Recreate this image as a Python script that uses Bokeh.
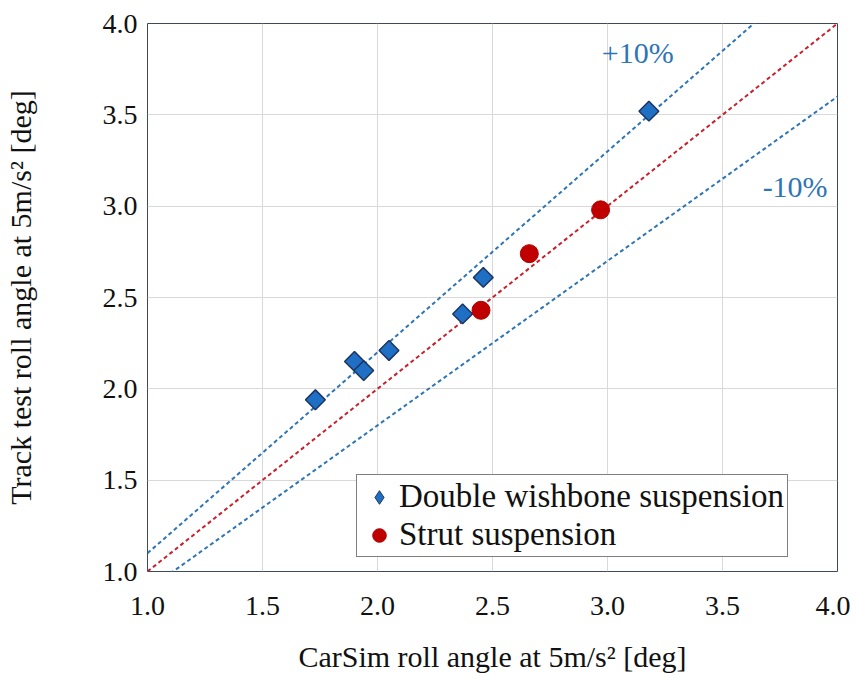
import numpy as np
from bokeh.plotting import figure
from bokeh.models import Label, Legend, LegendItem, FixedTicker, Range1d, PrintfTickFormatter
from bokeh.embed import file_html
from bokeh.resources import INLINE

# ---- data ----
dw_x = [1.73, 1.90, 1.94, 2.05, 2.37, 2.46, 3.18]
dw_y = [1.94, 2.15, 2.10, 2.21, 2.41, 2.61, 3.52]
strut_x = [2.45, 2.66, 2.97]
strut_y = [2.43, 2.74, 2.98]
ref_x = [1.0, 4.0]
ref_ratios = [1.1, 1.0, 0.9]
ticks = [1.0, 1.5, 2.0, 2.5, 3.0, 3.5, 4.0]
band_labels = ["+10%", "-10%"]
band_label_x = [2.975, 3.957]
band_label_y = [3.84, 3.108]

FONT = "'Liberation Serif', 'Times New Roman', serif"
BLUE_LINE = "#2E75B6"
RED_LINE = "#C8202C"

p = figure(width=850, height=676, output_backend="svg", toolbar_location=None,
           x_range=Range1d(1.0, 4.0), y_range=Range1d(1.0, 4.0),
           min_border_left=146, min_border_right=13, min_border_top=23, min_border_bottom=105)

p.background_fill_color = "white"
p.border_fill_color = "white"
p.outline_line_color = "#3E4A5C"
p.outline_line_width = 1

for ax in (p.xaxis[0], p.yaxis[0]):
    ax.ticker = FixedTicker(ticks=ticks)
    ax.formatter = PrintfTickFormatter(format="%.1f")
    ax.major_tick_line_color = None
    ax.minor_tick_line_color = None
    ax.axis_line_color = None
    ax.major_label_text_font = FONT
    ax.major_label_text_font_size = "28px"
    ax.major_label_text_color = "#111111"
    ax.axis_label_text_font = FONT
    ax.axis_label_text_font_size = "30px"
    ax.axis_label_text_font_style = "normal"
    ax.axis_label_text_color = "#111111"

p.xaxis[0].major_label_standoff = 19
p.xaxis[0].axis_label = "CarSim roll angle at 5m/s\u00b2 [deg]"
p.xaxis[0].axis_label_standoff = 22
p.yaxis[0].major_label_standoff = 4
p.yaxis[0].axis_label = "Track test roll angle at 5m/s\u00b2 [deg]"
p.yaxis[0].axis_label_standoff = 63

p.xgrid.ticker = FixedTicker(ticks=ticks)
p.ygrid.ticker = FixedTicker(ticks=ticks)
p.xgrid.grid_line_color = "#D9D9D9"
p.ygrid.grid_line_color = "#D9D9D9"

# reference lines
line_colors = [BLUE_LINE, RED_LINE, BLUE_LINE]
for r, c in zip(ref_ratios, line_colors):
    p.line(ref_x, [r * v for v in ref_x], line_color=c, line_width=2, line_dash="4 3")

dw = p.scatter(dw_x, dw_y, marker="square", angle=np.pi / 4, size=14,
               fill_color="#1F6FC5", line_color="#1B3560", line_width=1.5)
st = p.scatter(strut_x, strut_y, marker="circle", size=18,
               fill_color="#C00000", line_color="#B00000", line_width=1)
# legend-only glyph (diamond shape), not visible in the plot area
dw_leg = p.scatter([np.nan], [np.nan], marker="diamond", size=20,
                   fill_color="#1F6FC5", line_color="#1B3560", line_width=1)

for t, x, y, al in zip(band_labels, band_label_x, band_label_y, ["left", "right"]):
    p.add_layout(Label(x=x, y=y, text=t, text_align=al, text_baseline="middle",
                       text_font=FONT, text_font_size="30px", text_color=BLUE_LINE))

legend = Legend(items=[LegendItem(label="Double wishbone suspension", renderers=[dw_leg]),
                       LegendItem(label="Strut suspension", renderers=[st])],
                location=(209, 14))
legend.label_text_font = FONT
legend.label_text_font_size = "33px"
legend.label_text_color = "#111111"
legend.border_line_color = "black"
legend.border_line_width = 1
legend.background_fill_color = "white"
legend.background_fill_alpha = 1.0
legend.padding = 3
legend.spacing = 1
legend.margin = 0
legend.glyph_width = 38
legend.glyph_height = 34
legend.label_height = 34
legend.label_standoff = 1
p.add_layout(legend, "center")

open("out.html", "w").write(file_html(p, INLINE))
